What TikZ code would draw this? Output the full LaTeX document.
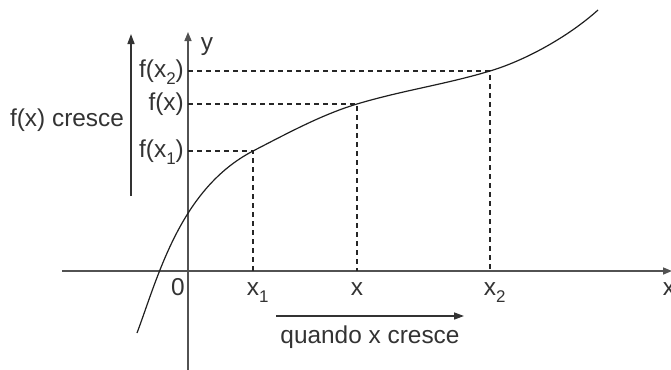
\documentclass[tikz,border=0pt]{standalone}
\usepackage{fontspec}
\setmainfont{Liberation Sans}
\usetikzlibrary{arrows.meta}
\newcommand{\subs}[1]{\raisebox{-0.32em}{\fontsize{17}{17}\selectfont #1}}
\newcommand{\rsubs}[1]{\rlap{\subs{#1}}}
\tikzset{
  axis/.style={draw=black!68, line width=1.5bp, -{Triangle[length=9bp,width=7bp]}},
  guide/.style={draw=black!85, line width=1.2bp, dash pattern=on 5bp off 4bp},
  curve/.style={draw=black!88, line width=1.2bp},
  growarrow/.style={draw=black!80, line width=1.5bp, -{Triangle[length=10bp,width=7bp]}},
  lbl/.style={text=black!80, font=\fontsize{24.5}{27}\selectfont, inner sep=0pt},
}
\begin{document}
\begin{tikzpicture}[x=1bp,y=-1bp]
\useasboundingbox (0,0) rectangle (671,369);
% points on the curve
\coordinate (c0) at (137,333);
\coordinate (p1) at (253,151);
\coordinate (p) at (357,104);
\coordinate (p2) at (490,71);
\coordinate (c5) at (598,10);
% feet on axes
\coordinate (b1) at (253,271);
\coordinate (b) at (357,271);
\coordinate (b2) at (490,271);
\coordinate (l1) at (188,151);
\coordinate (l) at (188,104);
\coordinate (l2) at (188,71);
% axes
\coordinate (xl) at (62,271);
\coordinate (xr) at (672,271);
\coordinate (yb) at (188,370);
\coordinate (yt) at (188,32);
\draw[axis] (xl) -- (xr);
\draw[axis] (yb) -- (yt);
% dashed guides
\draw[guide] (l1) -- (p1) -- (b1);
\draw[guide] (l) -- (p) -- (b);
\draw[guide] (l2) -- (p2) -- (b2);
% curve
\draw[curve] (c0) .. controls (158,277) and (180,189) .. (p1)
  .. controls (288,133) and (322,114.5) .. (p)
  .. controls (402,90.5) and (445,84.5) .. (p2)
  .. controls (525,60.5) and (568,37) .. (c5);
% growth arrows
\coordinate (va) at (131,196);
\coordinate (vb) at (131,34);
\draw[growarrow] (va) -- (vb);
\coordinate (ha) at (276,316);
\coordinate (hb) at (464,316);
\draw[growarrow] (ha) -- (hb);
% labels
\node[lbl, anchor=base] (ylab) at (207,50) {y};
\node[lbl, anchor=base] (xlab) at (669,295) {x};
\node[lbl, anchor=base] (zero) at (178,295) {0};
\node[lbl, anchor=base] (x1lab) at (253,295) {x\rsubs{1}};
\node[lbl, anchor=base] (xxlab) at (357,295) {x};
\node[lbl, anchor=base] (x2lab) at (490,295) {x\rsubs{2}};
\node[lbl, anchor=base east] (f2lab) at (184,77) {f(x\subs{2})};
\node[lbl, anchor=base east] (flab) at (184,110) {f(x)};
\node[lbl, anchor=base east] (f1lab) at (184,157) {f(x\subs{1})};
\node[lbl, anchor=base] (fcresce) at (67,126) {f(x) cresce};
\node[lbl, anchor=base] (xcresce) at (370,343) {quando x cresce};
\end{tikzpicture}
\end{document}
